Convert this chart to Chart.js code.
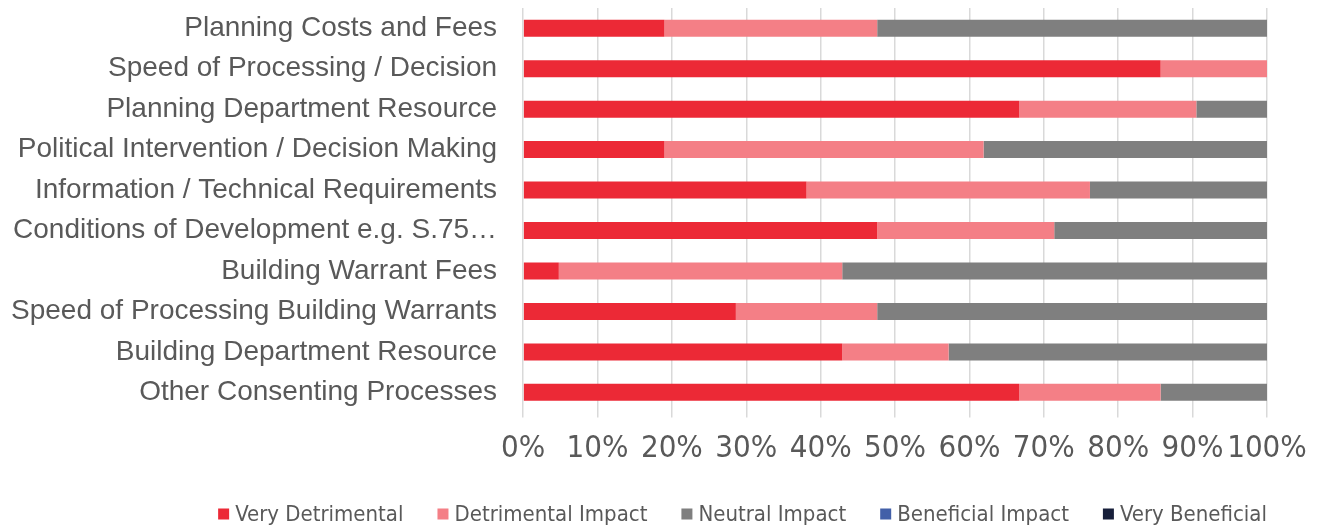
<!DOCTYPE html>
<html>
<head>
<meta charset="utf-8">
<script src="https://cdn.jsdelivr.net/npm/chart.js@4/dist/chart.umd.min.js"></script>
<style>
  html, body { margin: 0; padding: 0; background: #fff; }
  #wrap { width: 1320px; height: 527px; }
</style>
</head>
<body>
<div id="wrap"><canvas id="impactChart"></canvas></div>
<script>
// categories, top to bottom
const categories = [
  "Planning Costs and Fees",
  "Speed of Processing / Decision",
  "Planning Department Resource",
  "Political Intervention / Decision Making",
  "Information / Technical Requirements",
  "Conditions of Development e.g. S.75…",
  "Building Warrant Fees",
  "Speed of Processing Building Warrants",
  "Building Department Resource",
  "Other Consenting Processes"
];

// share of responses (%)
const veryDetrimental = [19.0, 85.7, 66.7, 19.0, 38.1, 47.6, 4.8, 28.6, 42.9, 66.7];
const detrimentalImpact = [28.6, 14.3, 23.8, 42.9, 38.1, 23.8, 38.1, 19.0, 14.3, 19.0];
const neutralImpact = [52.4, 0, 9.5, 38.1, 23.8, 28.6, 57.1, 52.4, 42.8, 14.3];
const beneficialImpact = [0, 0, 0, 0, 0, 0, 0, 0, 0, 0];
const veryBeneficial = [0, 0, 0, 0, 0, 0, 0, 0, 0, 0];

const xTicks = [0, 10, 20, 30, 40, 50, 60, 70, 80, 90, 100];

const textColor = "#595959";
const narrowFont = "'Liberation Sans Narrow', 'DejaVu Sans Condensed', sans-serif";

// legend drawn under the plot, right edge lined up with the chart area
const bottomLegend = {
  id: "bottomLegend",
  afterDraw(chart) {
    const ctx = chart.ctx;
    const box = 11, gapText = 6, gapItem = 34;
    ctx.save();
    ctx.font = "22px " + narrowFont;
    ctx.textBaseline = "middle";
    const items = chart.data.datasets.map(ds => ({
      label: ds.label,
      color: ds.backgroundColor,
      w: box + gapText + ctx.measureText(ds.label).width
    }));
    const total = items.reduce((s, it) => s + it.w, 0) + gapItem * (items.length - 1);
    let x = chart.chartArea.right - total;
    const y = 514;
    items.forEach(it => {
      ctx.fillStyle = it.color;
      ctx.fillRect(x, y - box / 2, box, box);
      ctx.fillStyle = textColor;
      ctx.fillText(it.label, x + box + gapText, y + 1);
      x += it.w + gapItem;
    });
    ctx.restore();
  }
};

function makeSet(label, data, color) {
  return {
    label: label,
    data: data,
    backgroundColor: color,
    borderWidth: 0,
    categoryPercentage: 1,
    barPercentage: 0.42
  };
}

new Chart(document.getElementById("impactChart").getContext("2d"), {
  type: "bar",
  data: {
    labels: categories,
    datasets: [
      makeSet("Very Detrimental", veryDetrimental, "#EC2936"),
      makeSet("Detrimental Impact", detrimentalImpact, "#F47F86"),
      makeSet("Neutral Impact", neutralImpact, "#7F7F7F"),
      makeSet("Beneficial Impact", beneficialImpact, "#4360A8"),
      makeSet("Very Beneficial", veryBeneficial, "#18203B")
    ]
  },
  options: {
    indexAxis: "y",
    responsive: true,
    maintainAspectRatio: false,
    animation: false,
    layout: {
      padding: { top: 8, right: 53, bottom: 46, left: 11 }
    },
    plugins: {
      legend: { display: false },
      tooltip: { enabled: false }
    },
    scales: {
      x: {
        stacked: true,
        min: 0,
        max: 100,
        afterBuildTicks: (scale) => {
          scale.ticks = xTicks.map(v => ({ value: v }));
        },
        grid: {
          color: "#d9d9d9",
          lineWidth: 1.5,
          tickLength: 5
        },
        border: { display: false },
        ticks: {
          padding: 10,
          maxRotation: 0,
          minRotation: 0,
          autoSkip: false,
          color: textColor,
          font: { family: narrowFont, size: 31, lineHeight: 1.4 },
          callback: (v) => v + "%"
        }
      },
      y: {
        stacked: true,
        // invisible tick marks give the gap between labels and bars
        grid: {
          drawOnChartArea: false,
          color: "rgba(0,0,0,0)",
          tickLength: 26
        },
        border: { display: false },
        ticks: {
          padding: 0,
          autoSkip: false,
          color: textColor,
          font: { family: "'Liberation Sans', Arial, sans-serif", size: 28, lineHeight: 0.5 }
        }
      }
    }
  },
  plugins: [bottomLegend]
});
</script>
</body>
</html>
